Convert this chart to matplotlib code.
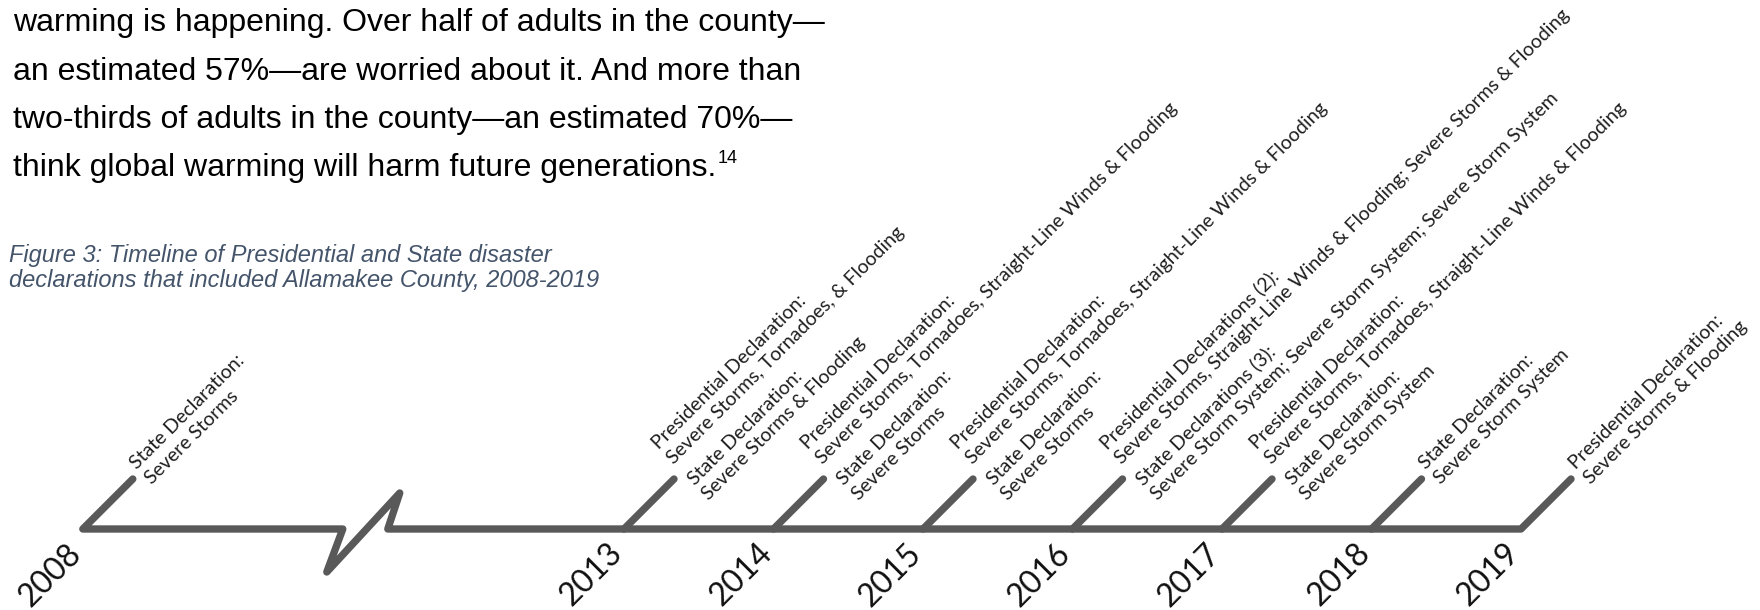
import matplotlib
matplotlib.use("Agg")
import matplotlib.pyplot as plt
import matplotlib.transforms as mtransforms

# ---------------- data ----------------
years = [2008, 2013, 2014, 2015, 2016, 2017, 2018, 2019]

presidential = [
    None,
    "Presidential Declaration:\nSevere Storms, Tornadoes, & Flooding",
    "Presidential Declaration:\nSevere Storms, Tornadoes, Straight-Line Winds & Flooding",
    "Presidential Declaration:\nSevere Storms, Tornadoes, Straight-Line Winds & Flooding",
    "Presidential Declarations (2):\nSevere Storms, Straight-Line Winds & Flooding; Severe Storms & Flooding",
    "Presidential Declaration:\nSevere Storms, Tornadoes, Straight-Line Winds & Flooding",
    None,
    "Presidential Declaration:\nSevere Storms & Flooding",
]

state = [
    "State Declaration:\nSevere Storms",
    "State Declaration:\nSevere Storms & Flooding",
    "State Declaration:\nSevere Storms",
    "State Declaration:\nSevere Storms",
    "State Declarations (3):\nSevere Storm System; Severe Storm System; Severe Storm System",
    "State Declaration:\nSevere Storm System",
    "State Declaration:\nSevere Storm System",
    None,
]

body_lines = [
    "warming is happening. Over half of adults in the county\u2014",
    "an estimated 57%\u2014are worried about it. And more than",
    "two-thirds of adults in the county\u2014an estimated 70%\u2014",
    "think global warming will harm future generations.",
]
footnote = "14"

caption_lines = [
    "Figure 3: Timeline of Presidential and State disaster",
    "declarations that included Allamakee County, 2008-2019",
]

# ---------------- layout / style ----------------
W, H, DPI = 1760, 610, 100
YEAR_PX = 149.5       # pixels per year after the break
X2013_PX = 624        # pixel x of 2013
BASE_PX = 529         # pixel y of the baseline
UNIT_PX = 50          # pixel height of one tick unit
COMPRESSED_GAP = 3.62 # displayed width (in years) of the 2008-2013 break

LINE_COLOR = "#595959"
LW = 5.3
LABEL_FONT = "Lato"
BODY_FONT = "Liberation Sans"

fig = plt.figure(figsize=(W / DPI, H / DPI), dpi=DPI)
fig.patch.set_facecolor("white")
ax = fig.add_axes([0, 0, 1, 1])
ax.set_xlim(2013 - X2013_PX / YEAR_PX, 2013 + (W - X2013_PX) / YEAR_PX)
ax.set_ylim(-(H - BASE_PX) / UNIT_PX, BASE_PX / UNIT_PX)
ax.axis("off")

TICK_DX = UNIT_PX / YEAR_PX   # 45 degree ticks

positions = [y if y >= 2013 else 2013 - COMPRESSED_GAP for y in years]

# main path: 2008 tick -> baseline -> break -> ... -> 2019 tick
x0, xl = positions[0], positions[-1]
brk_dx = [1.739, 1.632, 2.120, 2.040]
brk_dy = [0.0, -0.86, 0.72, 0.0]
xs = [x0 + TICK_DX, x0] + [x0 + d for d in brk_dx] + [xl, xl + TICK_DX]
ys = [1, 0] + brk_dy + [0, 1]
ax.plot(xs, ys, color=LINE_COLOR, lw=LW, solid_capstyle="round",
        solid_joinstyle="round")

for p in positions[1:-1]:
    ax.plot([p, p + TICK_DX], [0, 1], color=LINE_COLOR, lw=LW,
            solid_capstyle="round")


def off(along, perp):
    """offset in pixels: along = up-right text direction, perp = down-right"""
    r = 0.7071
    dx = along * r + perp * r
    dy = along * r - perp * r
    return mtransforms.offset_copy(ax.transData, fig=fig, x=dx * 72 / DPI,
                                   y=dy * 72 / DPI, units="points")


ALONG = 9.5
PITCH = 21.0
label_kw = dict(rotation=45, rotation_mode="anchor", ha="left",
                va="baseline", family=LABEL_FONT, fontsize=14,
                color="#1f1f1f")


def draw_block(tx, ty, text, first_perp):
    for i, line in enumerate(text.split("\n")):
        ax.text(tx, ty, line, transform=off(ALONG, first_perp + i * PITCH),
                **label_kw)


for p, yr, pres, st in zip(positions, years, presidential, state):
    tx, ty = p + TICK_DX, 1
    if pres and st:
        draw_block(tx, ty, pres, -31.0)
        draw_block(tx, ty, st, 19.5)
    else:
        draw_block(tx, ty, pres or st, -3.0)
    # year label
    ax.text(p, 0, str(yr), rotation=45, rotation_mode="anchor", ha="right",
            va="baseline", family=LABEL_FONT, fontsize=23,
            color="#111111",
            transform=mtransforms.offset_copy(ax.transData, fig=fig,
                                              x=0, y=-26 * 72 / DPI,
                                              units="points"))

# body text
BODY_X = 13
body_base = [31, 80, 128, 176]
last = None
for txt, b in zip(body_lines, body_base):
    last = fig.text(BODY_X / W, 1 - b / H, txt, family=BODY_FONT,
                    fontsize=23, color="black", va="baseline", ha="left")

fig.canvas.draw()
bb = last.get_window_extent(renderer=fig.canvas.get_renderer())
fig.text((bb.x1 + 1) / W, (bb.y0 + 20) / H, footnote, family=BODY_FONT,
         fontsize=13, color="black", va="baseline", ha="left")

cap_base = [262, 287]
for txt, b in zip(caption_lines, cap_base):
    fig.text(9 / W, 1 - b / H, txt, family=BODY_FONT, style="italic",
             fontsize=17, color="#44546A", va="baseline", ha="left")

fig.savefig("out.png", dpi=DPI, facecolor="white")
